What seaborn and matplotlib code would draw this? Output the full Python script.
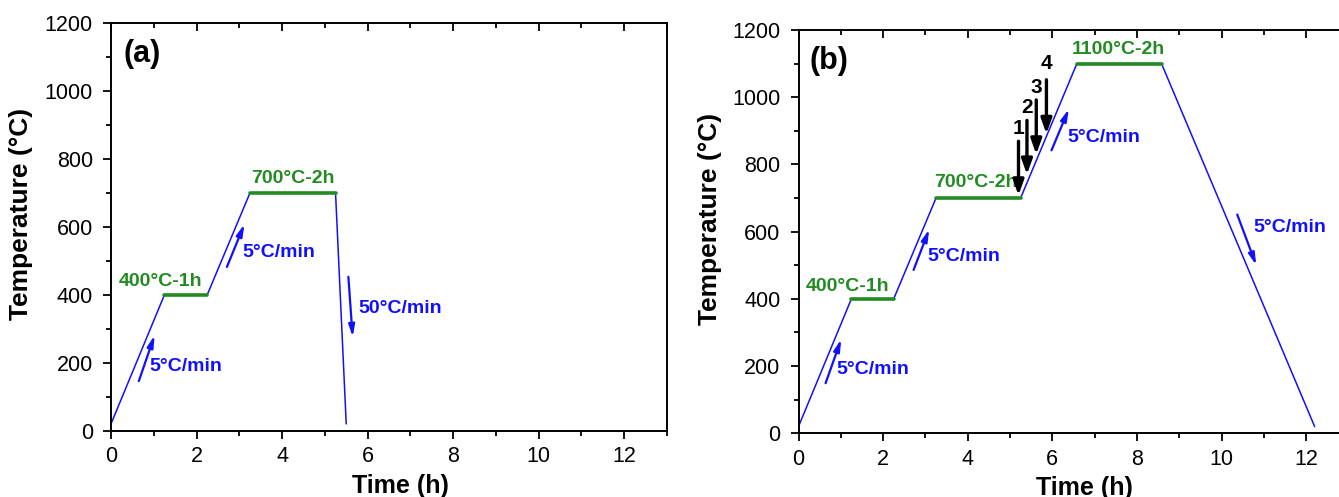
import matplotlib
matplotlib.use("Agg")
import matplotlib.pyplot as plt
import seaborn as sns
import pandas as pd
from matplotlib.ticker import MultipleLocator

sns.set_style("ticks")
plt.rcParams['font.family'] = ['Liberation Sans', 'DejaVu Sans']
plt.rcParams['mathtext.default'] = 'regular'
for k in ['text.color', 'axes.labelcolor', 'xtick.color', 'ytick.color', 'axes.edgecolor']:
    plt.rcParams[k] = 'black'

# ---------------- data ----------------
time_a = [0, 1.25, 2.25, 3.25, 5.25, 5.5]
temp_a = [20, 400, 400, 700, 700, 20]
time_b = [0, 1.25, 2.25, 3.25, 5.25, 6.58, 8.58, 12.2]
temp_b = [20, 400, 400, 700, 700, 1100, 1100, 20]

hold_start_a = [1.25, 3.25]
hold_end_a = [2.25, 5.25]
hold_temp_a = [400, 700]
hold_start_b = [1.25, 3.25, 6.58]
hold_end_b = [2.25, 5.25, 8.58]
hold_temp_b = [400, 700, 1100]

hold_labels_a = ["400°C-1h", "700°C-2h"]
hold_label_x_a = [1.17, 4.26]
hold_label_y_a = [438, 742]
hold_labels_b = ["400°C-1h", "700°C-2h", "1100°C-2h"]
hold_label_x_b = [1.16, 4.2, 7.56]
hold_label_y_b = [438, 746, 1142]

rate_labels_a = ["5°C/min", "5°C/min", "50°C/min"]
rate_tail_a = [(0.65, 146), (2.71, 482), (5.55, 453)]
rate_head_a = [(1.02, 281), (3.12, 608), (5.65, 276)]
rate_text_a = [(0.89, 188), (3.07, 524), (5.78, 360)]

rate_labels_b = ["5°C/min", "5°C/min", "5°C/min", "5°C/min"]
rate_tail_b = [(0.64, 149), (2.72, 486), (5.98, 842), (10.37, 651)]
rate_head_b = [(1.01, 280), (3.09, 607), (6.39, 965), (10.82, 500)]
rate_text_b = [(0.89, 190), (3.05, 525), (6.36, 881), (10.74, 611)]

stage_labels = ["1", "2", "3", "4"]
stage_x = [5.20, 5.40, 5.62, 5.86]
stage_tail = [869, 931, 992, 1052]
stage_head = [708, 770, 830, 891]
stage_label_y = [906, 970, 1030, 1099]

x_ticks = [0, 2, 4, 6, 8, 10, 12]
y_ticks = [0, 200, 400, 600, 800, 1000, 1200]

BLUE = "#1010FF"
GREEN = "#228B22"

fig = plt.figure(figsize=(13.39, 4.97), dpi=100)
W, H = 1339, 497
ax_a = fig.add_axes([111 / W, (H - 430.7) / H, 556 / W, (430.7 - 23) / H])
ax_b = fig.add_axes([798.5 / W, (H - 433.3) / H, 550 / W, (433.3 - 30) / H])


def draw(ax, t, T, hs, he, ht, hl, hlx, hly, rl, rt, rh, rtx, panel, ylab_x):
    sns.lineplot(x=t, y=T, ax=ax, color=BLUE, lw=1.1, sort=False, estimator=None)
    df = pd.DataFrame({
        "x": [v for pair in zip(hs, he) for v in pair],
        "y": [v for v in ht for _ in range(2)],
        "seg": [i for i in range(len(ht)) for _ in range(2)],
    })
    sns.lineplot(data=df, x="x", y="y", units="seg", estimator=None, ax=ax,
                 color=GREEN, lw=2.6, sort=False)
    for s, x, y in zip(hl, hlx, hly):
        ax.text(x, y, s, color=GREEN, fontsize=14, fontweight="bold",
                ha="center", va="center")
    for s, tail, head, tp in zip(rl, rt, rh, rtx):
        ax.annotate("", xy=head, xytext=tail,
                    arrowprops=dict(arrowstyle="-|>,head_length=0.7,head_width=0.18",
                                    color=BLUE, lw=1.6, shrinkA=0, shrinkB=0))
        ax.text(tp[0], tp[1], s, color=BLUE, fontsize=14, fontweight="bold",
                ha="left", va="center")
    ax.text(0.72, 1108, panel, fontsize=22, fontweight="bold", ha="center", va="center")

    ax.set_xlim(0, 13)
    ax.set_ylim(0, 1200)
    ax.set_xticks(x_ticks)
    ax.set_yticks(y_ticks)
    ax.xaxis.set_minor_locator(MultipleLocator(1))
    ax.yaxis.set_minor_locator(MultipleLocator(100))
    ax.tick_params(axis="both", which="major", direction="out", length=6, width=1.3,
                   labelsize=15.5, color="black", labelcolor="black")
    ax.tick_params(axis="x", which="major", pad=5)
    ax.tick_params(axis="y", which="major", pad=7)
    ax.tick_params(axis="both", which="minor", direction="out", length=3.5, width=1.3)
    ax.tick_params(axis="x", which="both", top=True)
    for sp in ax.spines.values():
        sp.set_visible(True)
        sp.set_linewidth(1.4)
        sp.set_color("black")
    ax.set_xlabel("Time (h)", fontsize=18, fontweight="bold", labelpad=0)
    ax.set_ylabel("Temperature (°C)", fontsize=19, fontweight="bold")
    ax.xaxis.set_label_coords(0.52, -0.105)
    ax.yaxis.set_label_coords(ylab_x, 0.532)


draw(ax_a, time_a, temp_a, hold_start_a, hold_end_a, hold_temp_a,
     hold_labels_a, hold_label_x_a, hold_label_y_a,
     rate_labels_a, rate_tail_a, rate_head_a, rate_text_a, "(a)", -0.14)
draw(ax_b, time_b, temp_b, hold_start_b, hold_end_b, hold_temp_b,
     hold_labels_b, hold_label_x_b, hold_label_y_b,
     rate_labels_b, rate_tail_b, rate_head_b, rate_text_b, "(b)", -0.139)

# top ticks point inward
for ax in (ax_a, ax_b):
    for tk in ax.xaxis.get_major_ticks() + ax.xaxis.get_minor_ticks():
        tk.tick2line.set_marker(3)  # TICKDOWN
    ax.xaxis.set_tick_params(which="major", labeltop=False)

for s, x, yt, yh, yl in zip(stage_labels, stage_x, stage_tail, stage_head, stage_label_y):
    ax_b.annotate("", xy=(x, yh), xytext=(x, yt),
                  arrowprops=dict(arrowstyle="-|>,head_length=0.9,head_width=0.32",
                                  color="black", lw=2.4, shrinkA=0, shrinkB=0))
    ax_b.text(x, yl, s, fontsize=15, fontweight="bold", ha="center", va="center")

fig.savefig("out.png", dpi=100)
